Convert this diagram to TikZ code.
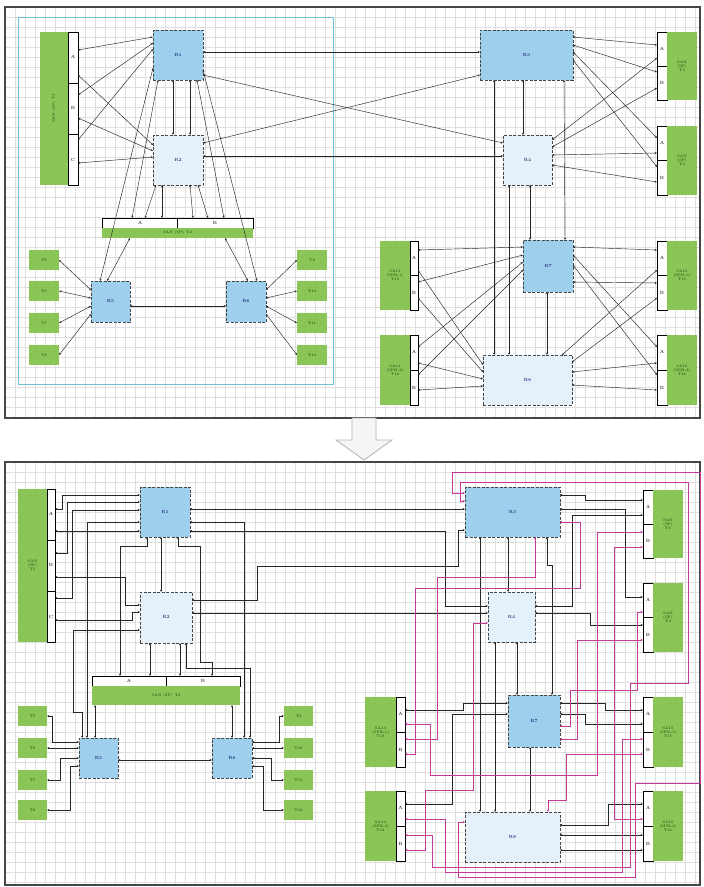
\documentclass[tikz,border=0pt]{standalone}
\usepackage{graphicx}
\usepackage{tikz}
\usetikzlibrary{arrows.meta}
\definecolor{rblue}{RGB}{158,208,238}
\definecolor{rpale}{RGB}{228,241,250}
\definecolor{sgreen}{RGB}{139,197,88}
\definecolor{wire}{RGB}{196,58,150}
\definecolor{framegray}{RGB}{70,70,70}
\definecolor{zone}{RGB}{110,195,215}
\tikzstyle{Router}=[rectangle, fill=rblue, draw=gray!55!black, dash pattern=on 3pt off 1.5pt, line width=0.9pt, inner sep=0, outer sep=0, font=\fontsize{4.5}{5}\selectfont, text=blue!35!black]
\tikzstyle{Pale}=[Router, fill=rpale]
\tikzstyle{Store}=[rectangle, fill=sgreen, inner sep=0, outer sep=0, align=center, font=\fontsize{3.6}{4.2}\selectfont, text=green!25!black]
\tikzstyle{Ports}=[rectangle, fill=white, draw=black, line width=0.5pt, inner sep=0, outer sep=0]
\tikzstyle{Letter}=[font=\fontsize{4.5}{5}\selectfont, inner sep=0]
\tikzstyle{Link}=[>={Stealth[length=2.4pt,width=2pt]}, <->, line width=0.45pt, draw=black!85]
\tikzstyle{Wire}=[Link, draw=wire, line width=0.6pt]
\tikzstyle{gridline}=[gray!25, line width=0.3pt]
\begin{document}
\begin{tikzpicture}[x=1pt, y=-1pt]
    \useasboundingbox (0,0) rectangle (704,887);
    \fill[white] (0,0) rectangle (704,887);
    % grid of both panels
    \foreach \gx in {15,25,...,695} {
        \draw[gridline] (\gx,7) -- (\gx,418);
        \draw[gridline] (\gx,462) -- (\gx,885);
    }
    \foreach \gy in {17,27,...,417} \draw[gridline] (5,\gy) -- (700,\gy);
    \foreach \gy in {472,482,...,882} \draw[gridline] (5,\gy) -- (700,\gy);
    \draw[framegray, line width=2.5pt] (5,7) rectangle (700,418);
    \draw[framegray, line width=2.5pt] (5,462) rectangle (700,885);
    \draw[zone, line width=0.8pt] (18,17) rectangle (333,384);
    \draw[gray!60, fill=gray!8, line width=0.8pt] (352,418) -- (376,418) -- (376,440) -- (392,440) -- (364,460) -- (336,440) -- (352,440) -- cycle;

    % ---------- before ----------
    \path
    (54,108.5) node[Store, minimum width=28pt, minimum height=153pt] (T1) {\rotatebox{90}{SAN (SP)\ T1}}
    (73,108.5) node[Ports, minimum width=10pt, minimum height=153pt] (T1bar) {}
    (178,55) node[Router, minimum width=50pt, minimum height=50pt] (R1) {R1}
    (178,160) node[Pale, minimum width=50pt, minimum height=50pt] (R2) {R2}
    (526.5,55) node[Router, minimum width=93pt, minimum height=50pt] (R3) {R3}
    (527.5,160) node[Pale, minimum width=49pt, minimum height=50pt] (R4) {R4}
    (662,66) node[Ports, minimum width=10pt, minimum height=68pt] (T3bar) {}
    (682,66) node[Store, minimum width=30pt, minimum height=68pt] (T3) {SAN\\(SP)\\T3}
    (662,160.5) node[Ports, minimum width=10pt, minimum height=69pt] (T4bar) {}
    (682,160.5) node[Store, minimum width=30pt, minimum height=69pt] (T4) {SAN\\(SP)\\T4}
    (177.5,223) node[Ports, minimum width=151pt, minimum height=10pt] (T2bar) {}
    (177.5,233) node[Store, minimum width=151pt, minimum height=10pt] (T2) {SAN (SP) T2};

    \path
    (44,260) node[Store, minimum width=30pt, minimum height=20pt] (T5) {T5}
    (44,291) node[Store, minimum width=30pt, minimum height=20pt] (T6) {T6}
    (44,323) node[Store, minimum width=30pt, minimum height=20pt] (T7) {T7}
    (44,355) node[Store, minimum width=30pt, minimum height=20pt] (T8) {T8}
    (312,260) node[Store, minimum width=30pt, minimum height=20pt] (T9) {T9}
    (312,291) node[Store, minimum width=30pt, minimum height=20pt] (T10) {T10}
    (312,323) node[Store, minimum width=30pt, minimum height=20pt] (T11) {T11}
    (312,355) node[Store, minimum width=30pt, minimum height=20pt] (T12) {T12}
    (110.5,301.5) node[Router, minimum width=39pt, minimum height=41pt] (R5) {R5}
    (246,301.5) node[Router, minimum width=40pt, minimum height=41pt] (R6) {R6}
    (548,266) node[Router, minimum width=50pt, minimum height=52pt] (R7) {R7}
    (527.5,380) node[Pale, minimum width=89pt, minimum height=50pt] (R8) {R8}
    (395,275.5) node[Store, minimum width=30pt, minimum height=69pt] (S13) {SA13\\(SPR-1)\\T13}
    (414,275.5) node[Ports, minimum width=8pt, minimum height=69pt] (S13bar) {}
    (395,370) node[Store, minimum width=30pt, minimum height=70pt] (S14) {SA14\\(SPR-2)\\T14}
    (414,370) node[Ports, minimum width=8pt, minimum height=70pt] (S14bar) {}
    (662,275.5) node[Ports, minimum width=10pt, minimum height=69pt] (S15bar) {}
    (682,275.5) node[Store, minimum width=30pt, minimum height=69pt] (S15) {SA15\\(SPR-3)\\T15}
    (662,370) node[Ports, minimum width=10pt, minimum height=70pt] (S16bar) {}
    (682,370) node[Store, minimum width=30pt, minimum height=70pt] (S16) {SA16\\(SPR-4)\\T16};

    % port sections
    \draw (T1bar.west |- 0,83) -- (T1bar.east |- 0,83) (T1bar.west |- 0,134) -- (T1bar.east |- 0,134);
    \draw (T3bar.west) -- (T3bar.east) (T4bar.west) -- (T4bar.east) (T2bar.north) -- (T2bar.south);
    \draw (S13bar.west) -- (S13bar.east) (S14bar.west) -- (S14bar.east) (S15bar.west) -- (S15bar.east) (S16bar.west) -- (S16bar.east);
    \path (73,57) node[Letter] {A} (73,108) node[Letter] {B} (73,160) node[Letter] {C}
    (662,49) node[Letter] {A} (662,83) node[Letter] {B} (662,143) node[Letter] {A} (662,178) node[Letter] {B}
    (140,223) node[Letter] {A} (215,223) node[Letter] {B}
    (414,258) node[Letter] {A} (414,293) node[Letter] {B} (414,352) node[Letter] {A} (414,388) node[Letter] {B}
    (662,258) node[Letter] {A} (662,293) node[Letter] {B} (662,352) node[Letter] {A} (662,388) node[Letter] {B};

    \draw[Link] (T1bar.east |- 0,50) -- (R1.west |- 0,37);
    \draw[Link] (T1bar.east |- 0,95) -- (R1.west |- 0,43);
    \draw[Link] (T1bar.east |- 0,140) -- (R1.west |- 0,49);
    \draw[Link] (T1bar.east |- 0,75) -- (R2.west |- 0,145);
    \draw[Link] (T1bar.east |- 0,118) -- (R2.west |- 0,151);
    \draw[Link] (T1bar.east |- 0,163) -- (R2.west |- 0,157);
    \draw[Link] (R1.west |- 0,68) -- (R5.north -| 100,0);
    \draw[Link] (R1.south -| 158,0) -- (T2bar.north -| 132,0);
    \draw[Link] (R1.south -| 197,0) -- (T2bar.north -| 224,0);
    \draw[Link] (R1.east |- 0,70) -- (R6.north -| 257,0);
    \draw[Link] (R1.south -| 173,0) -- (R2.north -| 173,0);
    \draw[Link] (R1.south -| 190,0) -- (R2.north -| 190,0);
    \draw[Link] (R2.south -| 162,0) -- (T2bar.north -| 162,0);
    \draw[Link] (R2.south -| 190,0) -- (T2bar.north -| 193,0);
    \draw[Link] (R2.south -| 156,0) -- (T2bar.north -| 145,0);
    \draw[Link] (R2.south -| 198,0) -- (T2bar.north -| 208,0);
    \draw[Link] (T2.south -| 130,0) -- (R5.north -| 107,0);
    \draw[Link] (T2.south -| 225,0) -- (R6.north -| 248,0);
    \draw[Link] (R1.east |- 0,52) -- (R3.west |- 0,52);
    \draw[Link] (R2.east |- 0,156) -- (R4.west |- 0,156);
    \draw[Link] (R1.east |- 0,75) -- (R4.west |- 0,143);
    \draw[Link] (R2.east |- 0,143) -- (R3.west |- 0,75);
    \draw[Link] (R3.south -| 523,0) -- (R4.north -| 523,0);
    \draw[Link] (R3.south -| 494,0) -- (R8.north -| 494,0);
    \draw[Link] (R4.south -| 509,0) -- (R8.north -| 509,0);
    \draw[Link] (R4.south -| 530,0) -- (R7.north -| 530,0);
    \draw[Link] (R3.south -| 564,0) -- (R7.north -| 565,0);
    \draw[Link] (R7.south -| 547,0) -- (R8.north -| 547,0);
    \draw[Link] (R3.east |- 0,37) -- (T3bar.west |- 0,45);
    \draw[Link] (R3.east |- 0,45) -- (T3bar.west |- 0,72);
    \draw[Link] (R3.east |- 0,52) -- (T4bar.west |- 0,138);
    \draw[Link] (R3.east |- 0,60) -- (T4bar.west |- 0,167);
    \draw[Link] (R4.east |- 0,140) -- (T3bar.west |- 0,58);
    \draw[Link] (R4.east |- 0,147) -- (T3bar.west |- 0,88);
    \draw[Link] (R4.east |- 0,155) -- (T4bar.west |- 0,153);
    \draw[Link] (R4.east |- 0,165) -- (T4bar.west |- 0,182);
    \draw[Link] (R7.west |- 0,247) -- (S13bar.east |- 0,250);
    \draw[Link] (R8.west |- 0,365) -- (S13bar.east |- 0,270);
    \draw[Link] (R7.west |- 0,255) -- (S13bar.east |- 0,282);
    \draw[Link] (R8.west |- 0,372) -- (S13bar.east |- 0,298);
    \draw[Link] (R7.west |- 0,262) -- (S14bar.east |- 0,347);
    \draw[Link] (R8.west |- 0,379) -- (S14bar.east |- 0,363);
    \draw[Link] (R7.west |- 0,270) -- (S14bar.east |- 0,375);
    \draw[Link] (R8.west |- 0,386) -- (S14bar.east |- 0,390);
    \draw[Link] (R7.east |- 0,247) -- (S15bar.west |- 0,250);
    \draw[Link] (R8.north -| 562,0) -- (S15bar.west |- 0,270);
    \draw[Link] (R7.east |- 0,282) -- (S15bar.west |- 0,283);
    \draw[Link] (R8.east |- 0,362) -- (S15bar.west |- 0,298);
    \draw[Link] (R7.east |- 0,255) -- (S16bar.west |- 0,347);
    \draw[Link] (R8.east |- 0,372) -- (S16bar.west |- 0,363);
    \draw[Link] (R7.east |- 0,265) -- (S16bar.west |- 0,375);
    \draw[Link] (R8.east |- 0,385) -- (S16bar.west |- 0,390);
    \draw[Link] (T5.east) -- (R5.west |- 0,290);
    \draw[Link] (T6.east) -- (R5.west |- 0,298);
    \draw[Link] (T7.east) -- (R5.west |- 0,306);
    \draw[Link] (T8.east) -- (R5.west |- 0,314);
    \draw[Link] (T9.west) -- (R6.east |- 0,290);
    \draw[Link] (T10.west) -- (R6.east |- 0,298);
    \draw[Link] (T11.west) -- (R6.east |- 0,306);
    \draw[Link] (T12.west) -- (R6.east |- 0,314);
    \draw[Link] (R5.east |- 0,306) -- (R6.west |- 0,306);

    % ---------- after ----------
    \path
    (32.5,565.5) node[Store, minimum width=29pt, minimum height=153pt] (T1b) {SAN\\(SP)\\T1}
    (51,565.5) node[Ports, minimum width=8pt, minimum height=153pt] (T1bbar) {}
    (165,512) node[Router, minimum width=50pt, minimum height=50pt] (R1b) {R1}
    (166,617.5) node[Pale, minimum width=52pt, minimum height=51pt] (R2b) {R2}
    (512.5,512) node[Router, minimum width=95pt, minimum height=50pt] (R3b) {R3}
    (511.5,617) node[Pale, minimum width=47pt, minimum height=50pt] (R4b) {R4}
    (648,524) node[Ports, minimum width=10pt, minimum height=68pt] (T3bbar) {}
    (668,524) node[Store, minimum width=30pt, minimum height=68pt] (T3b) {SAN\\(SP)\\T3}
    (648,617.5) node[Ports, minimum width=10pt, minimum height=69pt] (T4bbar) {}
    (668,617.5) node[Store, minimum width=30pt, minimum height=69pt] (T4b) {SAN\\(SP)\\T4}
    (166,681) node[Ports, minimum width=148pt, minimum height=10pt] (T2bbar) {}
    (166,695.5) node[Store, minimum width=148pt, minimum height=19pt] (T2b) {SAN (SP) T2};

    \path
    (32.5,716) node[Store, minimum width=29pt, minimum height=20pt] (T5b) {T5}
    (32.5,748) node[Store, minimum width=29pt, minimum height=20pt] (T6b) {T6}
    (32.5,780) node[Store, minimum width=29pt, minimum height=20pt] (T7b) {T7}
    (32.5,810) node[Store, minimum width=29pt, minimum height=20pt] (T8b) {T8}
    (298.5,716) node[Store, minimum width=29pt, minimum height=20pt] (T9b) {T9}
    (298.5,748) node[Store, minimum width=29pt, minimum height=20pt] (T10b) {T10}
    (298.5,780) node[Store, minimum width=29pt, minimum height=20pt] (T11b) {T11}
    (298.5,810) node[Store, minimum width=29pt, minimum height=20pt] (T12b) {T12}
    (98.5,758) node[Router, minimum width=39pt, minimum height=40pt] (R5b) {R5}
    (232,758) node[Router, minimum width=40pt, minimum height=40pt] (R6b) {R6}
    (534,721) node[Router, minimum width=52pt, minimum height=52pt] (R7b) {R7}
    (512.5,837) node[Pale, minimum width=95pt, minimum height=50pt] (R8b) {R8}
    (380.5,732) node[Store, minimum width=31pt, minimum height=70pt] (S13b) {SA13\\(SPR-1)\\T13}
    (400.5,732) node[Ports, minimum width=9pt, minimum height=70pt] (S13bbar) {}
    (380.5,826) node[Store, minimum width=31pt, minimum height=70pt] (S14b) {SA14\\(SPR-2)\\T14}
    (400.5,826) node[Ports, minimum width=9pt, minimum height=70pt] (S14bbar) {}
    (648,732) node[Ports, minimum width=10pt, minimum height=70pt] (S15bbar) {}
    (668,732) node[Store, minimum width=30pt, minimum height=70pt] (S15b) {SA15\\(SPR-3)\\T15}
    (648,826) node[Ports, minimum width=10pt, minimum height=70pt] (S16bbar) {}
    (668,826) node[Store, minimum width=30pt, minimum height=70pt] (S16b) {SA16\\(SPR-4)\\T16};

    \draw (T1bbar.west |- 0,540) -- (T1bbar.east |- 0,540) (T1bbar.west |- 0,591) -- (T1bbar.east |- 0,591);
    \draw (T3bbar.west) -- (T3bbar.east) (T4bbar.west) -- (T4bbar.east) (T2bbar.north) -- (T2bbar.south);
    \draw (S13bbar.west) -- (S13bbar.east) (S14bbar.west) -- (S14bbar.east) (S15bbar.west) -- (S15bbar.east) (S16bbar.west) -- (S16bbar.east);
    \path (51,514) node[Letter] {A} (51,565) node[Letter] {B} (51,617) node[Letter] {C}
    (648,507) node[Letter] {A} (648,541) node[Letter] {B} (648,600) node[Letter] {A} (648,635) node[Letter] {B}
    (129,681) node[Letter] {A} (203,681) node[Letter] {B}
    (400.5,714) node[Letter] {A} (400.5,750) node[Letter] {B} (400.5,808) node[Letter] {A} (400.5,844) node[Letter] {B}
    (648,714) node[Letter] {A} (648,750) node[Letter] {B} (648,808) node[Letter] {A} (648,844) node[Letter] {B};

    \draw[Link] (R1b.west |- 0,495) -- (62,495) -- (62,509) -- (T1bbar.east |- 0,509);
    \draw[Link] (R1b.west |- 0,502) -- (67,502) -- (67,553) -- (T1bbar.east |- 0,553);
    \draw[Link] (R1b.west |- 0,510) -- (72,510) -- (72,598) -- (T1bbar.east |- 0,598);
    \draw[Link] (T1bbar.east |- 0,531) -- (R1b.west |- 0,531);
    \draw[Link] (T1bbar.east |- 0,577) -- (125,577) -- (125,605) -- (R2b.west |- 0,605);
    \draw[Link] (T1bbar.east |- 0,620) -- (132,620) -- (132,612) -- (R2b.west |- 0,612);
    \draw[Link] (R1b.south -| 147,0) -- (147,546) -- (120,546) -- (T2bbar.north -| 120,0);
    \draw[Link] (R1b.south -| 161,0) -- (R2b.north -| 161,0);
    \draw[Link] (R1b.south -| 178,0) -- (178,546) -- (200,546) -- (200,662) -- (212,662) -- (T2bbar.north -| 212,0);
    \draw[Link] (R2b.south -| 150,0) -- (T2bbar.north -| 150,0);
    \draw[Link] (R2b.south -| 180,0) -- (T2bbar.north -| 180,0);
    \draw[Link] (R2b.south -| 186,0) -- (186,668) -- (250,668) -- (R6b.north -| 250,0);
    \draw[Link] (R1b.west |- 0,522) -- (87,522) -- (R5b.north -| 87,0);
    \draw[Link] (R1b.east |- 0,522) -- (244,522) -- (R6b.north -| 244,0);
    \draw[Link] (R2b.west |- 0,630) -- (73,630) -- (73,712) -- (82,712) -- (R5b.north -| 82,0);
    \draw[Link] (T2b.south -| 95,0) -- (R5b.north -| 95,0);
    \draw[Link] (T2b.south -| 232,0) -- (R6b.north -| 232,0);
    \draw[Link] (T5b.east) -- (52,716) -- (52,742) -- (R5b.west |- 0,742);
    \draw[Link] (T6b.east) -- (R5b.west |- T6b.east);
    \draw[Link] (T7b.east) -- (60,780) -- (60,758) -- (R5b.west |- 0,758);
    \draw[Link] (T8b.east) -- (70,810) -- (70,766) -- (R5b.west |- 0,766);
    \draw[Link] (T9b.west) -- (279,716) -- (279,742) -- (R6b.east |- 0,742);
    \draw[Link] (T10b.west) -- (R6b.east |- T10b.west);
    \draw[Link] (T11b.west) -- (271,780) -- (271,758) -- (R6b.east |- 0,758);
    \draw[Link] (T12b.west) -- (263,810) -- (263,766) -- (R6b.east |- 0,766);
    \draw[Link] (R5b.east |- 0,760) -- (R6b.west |- 0,760);

    \draw[Link] (R1b.east |- 0,509) -- (R3b.west |- 0,509);
    \draw[Link] (R2b.east |- 0,600) -- (257,600) -- (257,566) -- (458,566) -- (458,530) -- (R3b.west |- 0,530);
    \draw[Link] (R2b.east |- 0,613) -- (R4b.west |- 0,613);
    \draw[Link] (R1b.east |- 0,531) -- (445,531) -- (445,606) -- (R4b.west |- 0,606);
    \draw[Link] (R3b.south -| 480,0) -- (R8b.north -| 480,0);
    \draw[Link] (R3b.south -| 508,0) -- (R4b.north -| 508,0);
    \draw[Link] (R3b.south -| 547,0) -- (547,565) -- (552,565) -- (R7b.north -| 552,0);
    \draw[Link] (R4b.south -| 517,0) -- (R7b.north -| 517,0);
    \draw[Link] (R4b.south -| 495,0) -- (R8b.north -| 495,0);
    \draw[Link] (R7b.south -| 530,0) -- (R8b.north -| 530,0);
    \draw[Link] (R3b.east |- 0,495) -- (585,495) -- (585,500) -- (T3bbar.west |- 0,500);
    \draw[Link] (R3b.east |- 0,509) -- (625,509) -- (625,597) -- (T4bbar.west |- 0,597);
    \draw[Link] (R4b.east |- 0,606) -- (572,606) -- (572,515) -- (T3bbar.west |- 0,515);
    \draw[Link] (R4b.east |- 0,613) -- (590,613) -- (590,625) -- (T4bbar.west |- 0,625);
    \draw[Link] (R7b.west |- 0,703) -- (463,703) -- (463,710) -- (S13bbar.east |- 0,710);
    \draw[Link] (R7b.west |- 0,714) -- (452,714) -- (452,804) -- (S14bbar.east |- 0,804);
    \draw[Link] (R7b.east |- 0,703) -- (605,703) -- (605,710) -- (S15bbar.west |- 0,710);
    \draw[Link] (R7b.east |- 0,714) -- (585,714) -- (585,724) -- (S15bbar.west |- 0,724);
    \draw[Link] (R8b.east |- 0,825) -- (608,825) -- (608,804) -- (S16bbar.west |- 0,804);
    \draw[Link] (S16bbar.west |- 0,835) -- (R8b.east |- 0,835);
    \draw[Link] (S16bbar.west |- 0,850) -- (R8b.east |- 0,850);

    \draw[Wire] (R3b.west |- 0,493) -- (452,493) -- (452,472) -- (700,472) -- (700,783) -- (635,783) -- (635,877) -- (458,877) -- (458,822) -- (R8b.west |- 0,822);
    \draw[Wire] (R3b.west |- 0,501) -- (460,501) -- (460,482) -- (688,482) -- (688,683) -- (630,683) -- (630,867) -- (432,867) -- (432,835) -- (S14bbar.east |- 0,835);
    \draw[Wire] (T3bbar.west |- 0,532) -- (597,532) -- (597,775) -- (430,775) -- (430,724) -- (S13bbar.east |- 0,724);
    \draw[Wire] (T3bbar.west |- 0,547) -- (614,547) -- (614,819) -- (S16bbar.west |- 0,819);
    \draw[Wire] (R3b.south -| 535,0) -- (535,577) -- (437,577) -- (437,739) -- (S13bbar.east |- 0,739);
    \draw[Wire] (R3b.east |- 0,522) -- (580,522) -- (580,588) -- (415,588) -- (415,754) -- (S13bbar.east |- 0,754);
    \draw[Wire] (R4b.west |- 0,623) -- (473,623) -- (473,790) -- (425,790) -- (425,850) -- (S14bbar.east |- 0,850);
    \draw[Wire] (T4bbar.west |- 0,640) -- (577,640) -- (577,739) -- (R7b.east |- 0,739);
    \draw[Wire] (T4bbar.west |- 0,612) -- (637,612) -- (637,690) -- (570,690) -- (570,726) -- (R7b.east |- 0,726);
    \draw[Wire] (S15bbar.west |- 0,739) -- (622,739) -- (622,872) -- (445,872) -- (445,819) -- (S14bbar.east |- 0,819);
    \draw[Wire] (S15bbar.west |- 0,754) -- (566,754) -- (566,800) -- (548,800) -- (R8b.north -| 548,0);
\end{tikzpicture}
\end{document}
